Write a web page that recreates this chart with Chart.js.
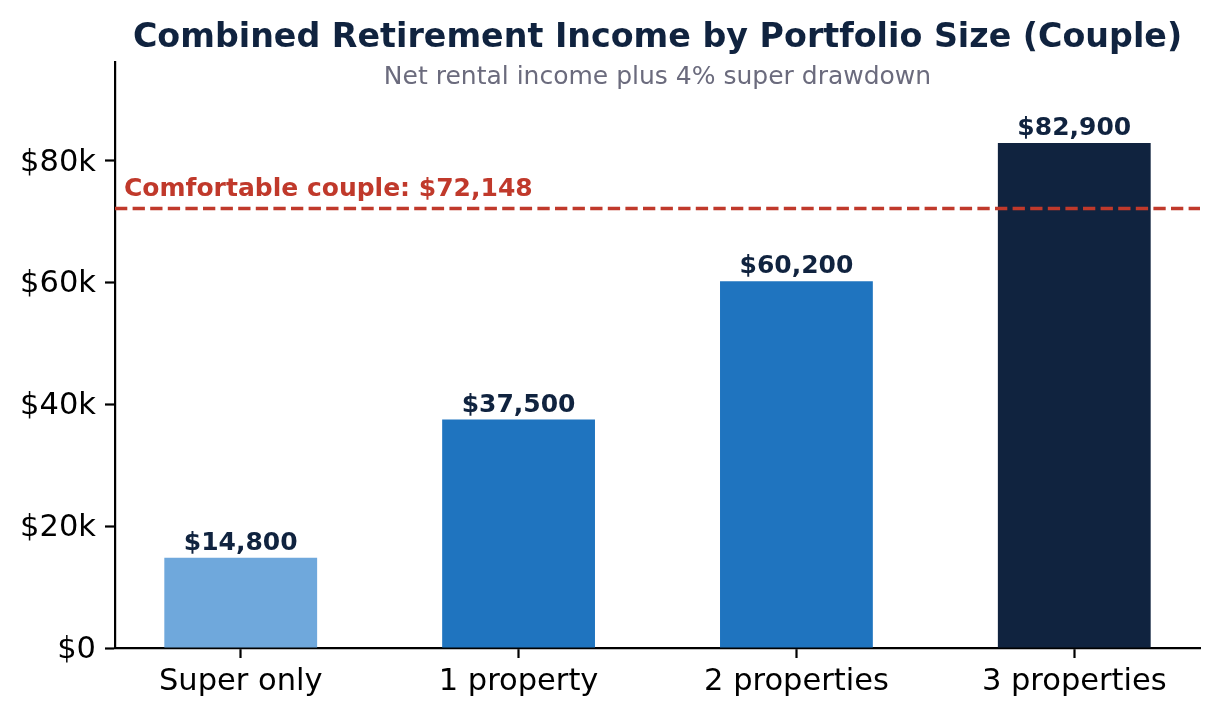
<!DOCTYPE html>
<html>
<head>
<meta charset="utf-8">
<script src="https://cdn.jsdelivr.net/npm/chart.js@4"></script>
<style>
  html, body { margin: 0; padding: 0; background: #fff; }
  #wrap { width: 1220px; height: 716px; position: relative; }
</style>
</head>
<body>
<div id="wrap"><canvas id="chart"></canvas></div>
<script>
// Дані графіка
const categories = ['Super only', '1 property', '2 properties', '3 properties'];
const incomeValues = [14800, 37500, 60200, 82900];
const barColors = ['#6fa8dc', '#1f74bf', '#1f74bf', '#10233f'];
const yTickValues = [0, 20000, 40000, 60000, 80000];
const yTickLabels = ['$0', '$20k', '$40k', '$60k', '$80k'];
const comfortableLevel = 72148;
const comfortableLabel = 'Comfortable couple: $72,148';
const titleText = 'Combined Retirement Income by Portfolio Size (Couple)';
const subtitleText = 'Net rental income plus 4% super drawdown';

const FONT = "'DejaVu Sans', sans-serif";
const NAVY = '#10233f';
const RED = '#c0392b';

function formatMoney(v) {
    return '$' + v.toLocaleString('en-US');
}

// Заголовок, підзаголовок, лінія порогу і підписи над стовпчиками
const decorPlugin = {
    id: 'decor',
    afterDatasetsDraw(chart) {
        const ctx = chart.ctx;
        const area = chart.chartArea;
        const y = chart.scales.y;
        const midX = (area.left + area.right) / 2;

        ctx.save();
        ctx.textAlign = 'center';
        ctx.textBaseline = 'alphabetic';
        ctx.fillStyle = NAVY;
        ctx.font = `bold 33.3px ${FONT}`;
        ctx.fillText(titleText, midX, 47);

        ctx.fillStyle = '#6b6b7d';
        ctx.font = `25px ${FONT}`;
        ctx.fillText(subtitleText, midX, 84);

        // пунктирна лінія порогу
        const ly = y.getPixelForValue(comfortableLevel);
        ctx.strokeStyle = RED;
        ctx.lineWidth = 3.3;
        ctx.setLineDash([12.3, 5.3]);
        ctx.beginPath();
        ctx.moveTo(area.left, ly);
        ctx.lineTo(area.right, ly);
        ctx.stroke();
        ctx.setLineDash([]);

        ctx.textAlign = 'left';
        ctx.fillStyle = RED;
        ctx.font = `bold 25px ${FONT}`;
        ctx.fillText(comfortableLabel, area.left + 9, ly - 13);

        // підписи значень
        ctx.textAlign = 'center';
        ctx.fillStyle = NAVY;
        const meta = chart.getDatasetMeta(0);
        meta.data.forEach((bar, i) => {
            ctx.fillText(formatMoney(incomeValues[i]), bar.x, bar.y - 8);
        });
        ctx.restore();
    }
};

const tickFont = { family: FONT, size: 30.5 };

new Chart(document.getElementById('chart').getContext('2d'), {
    type: 'bar',
    data: {
        datasets: [{
            data: incomeValues.map((v, i) => ({ x: i, y: v })),
            backgroundColor: barColors,
            borderWidth: 0,
            barPercentage: 0.55,
            categoryPercentage: 1
        }]
    },
    options: {
        responsive: true,
        maintainAspectRatio: false,
        animation: false,
        devicePixelRatio: 1,
        layout: { padding: { top: 62, right: 20, left: 0, bottom: 0 } },
        plugins: {
            legend: { display: false },
            tooltip: { enabled: false },
            title: { display: false }
        },
        scales: {
            x: {
                type: 'linear',
                min: -0.4525,
                max: 3.4525,
                offset: false,
                afterBuildTicks: s => { s.ticks = categories.map((c, i) => ({ value: i })); },
                afterFit: s => { s.height = 68; },
                ticks: {
                    font: tickFont,
                    color: '#000',
                    padding: 6,
                    maxRotation: 0,
                    autoSkip: false,
                    callback: v => categories[v]
                },
                grid: { offset: false, drawOnChartArea: false, drawTicks: true, tickLength: 10, tickWidth: 2.2, tickColor: '#000' },
                border: { display: true, color: '#000', width: 2.2 }
            },
            y: {
                min: 0,
                max: 96200,
                afterBuildTicks: s => { s.ticks = yTickValues.map(v => ({ value: v })); },
                afterFit: s => { s.width = 115; },
                ticks: {
                    font: tickFont,
                    color: '#000',
                    padding: 9,
                    labelOffset: 2,
                    callback: v => yTickLabels[yTickValues.indexOf(v)]
                },
                grid: { drawOnChartArea: false, drawTicks: true, tickLength: 10, tickWidth: 2.2, tickColor: '#000' },
                border: { display: true, color: '#000', width: 2.2 }
            }
        }
    },
    plugins: [decorPlugin]
});
</script>
</body>
</html>
